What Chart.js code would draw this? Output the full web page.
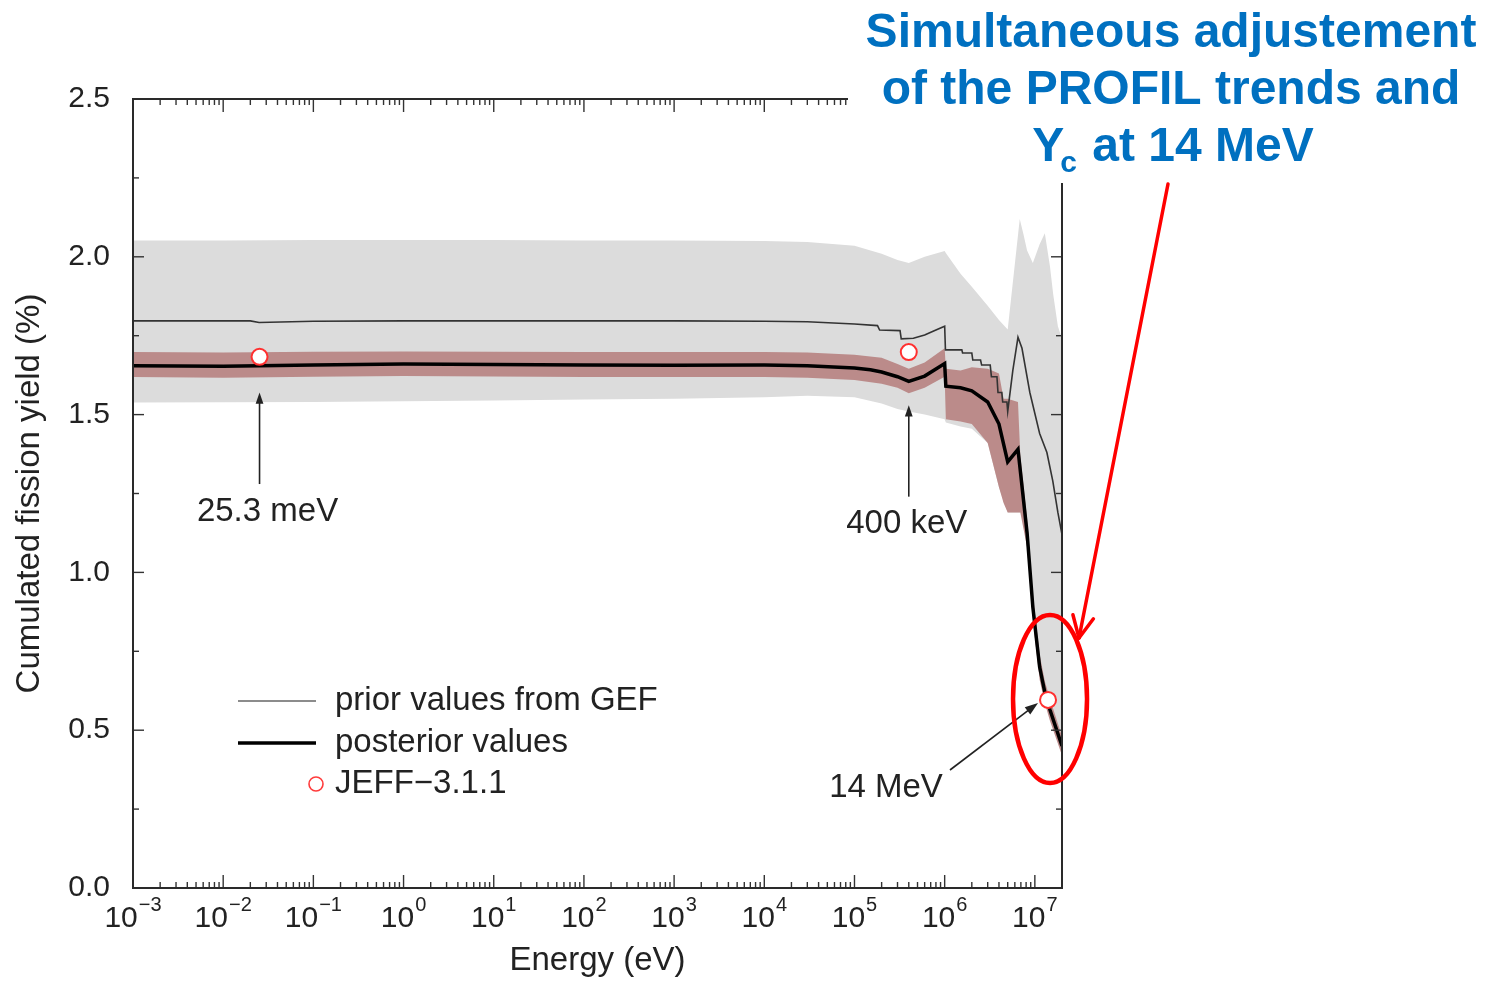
<!DOCTYPE html>
<html>
<head>
<meta charset="utf-8">
<script src="https://cdn.jsdelivr.net/npm/chart.js@4.4.1/dist/chart.umd.min.js"></script>
<style>
  html, body { margin: 0; padding: 0; background: #fff; }
  #wrap { width: 1493px; height: 983px; }
</style>
</head>
<body>
<div id="wrap"><canvas id="yieldChart" width="1493" height="983"></canvas></div>
<script>
// prior values from GEF
var priorEnergy = [1e-3, 0.02, 0.025, 0.1, 1, 10, 100, 1e3, 1e4, 3e4, 1e5, 1.8e5, 1.9e5, 3.2e5, 3.3e5, 4.5e5, 6e5, 8e5, 1e6,
  1.02e6, 1.55e6, 1.58e6, 2.0e6, 2.05e6, 2.5e6, 2.57e6, 3.2e6, 3.3e6, 3.8e6, 3.9e6, 4.3e6, 4.4e6, 4.9e6, 5e6,
  5.7e6, 6.5e6, 7.2e6, 8.8e6, 1.13e7, 1.36e7, 1.58e7, 1.8e7, 2e7];
var priorYield = [1.797, 1.797, 1.792, 1.796, 1.797, 1.797, 1.797, 1.797, 1.796, 1.794, 1.787, 1.782, 1.768, 1.766, 1.74, 1.742, 1.752, 1.768, 1.78,
  1.705, 1.705, 1.695, 1.695, 1.673, 1.673, 1.657, 1.657, 1.62, 1.62, 1.57, 1.57, 1.54, 1.54, 1.51,
  1.64, 1.745, 1.71, 1.57, 1.44, 1.38, 1.29, 1.19, 1.12];

// posterior values
var postEnergy = [1e-3, 1e-2, 0.1, 1, 10, 100, 1e3, 1e4, 3e4, 1e5, 1.5e5, 2e5, 3e5, 4e5, 6e5, 1e6, 1.03e6, 1.5e6, 2e6, 3e6, 4e6, 5e6, 6.5e6, 8.2e6, 9.5e6, 1.13e7, 1.29e7, 1.47e7, 2e7];
var postYield = [1.655, 1.653, 1.657, 1.66, 1.659, 1.657, 1.656, 1.657, 1.655, 1.648, 1.642, 1.635, 1.62, 1.605, 1.622, 1.662, 1.59, 1.585, 1.575, 1.54, 1.47, 1.35, 1.39, 1.125, 0.89, 0.70, 0.62, 0.565, 0.45];

// prior uncertainty band (grey)
var priorBandEnergy = [1e-3, 1e-2, 0.1, 1, 10, 100, 1e3, 1e4, 3e4, 1e5, 2e5, 3e5, 4e5, 6e5, 1e6, 1.03e6, 1.5e6, 2e6, 3e6, 4e6, 5e6, 6.8e6, 7.5e6, 8.2e6, 9.5e6, 1.13e7, 1.29e7, 1.47e7, 1.6e7, 1.8e7, 2e7];
var priorBandHigh = [2.052, 2.052, 2.053, 2.053, 2.053, 2.052, 2.052, 2.05, 2.047, 2.035, 2.01, 1.99, 1.98, 2.0, 2.018, 2.012, 1.946, 1.905, 1.845, 1.80, 1.77, 2.12, 2.07, 2.02, 1.98, 2.04, 2.075, 1.97, 1.88, 1.78, 1.74];
var priorBandLow = [1.538, 1.539, 1.54, 1.542, 1.545, 1.548, 1.55, 1.555, 1.56, 1.555, 1.535, 1.518, 1.51, 1.50, 1.485, 1.475, 1.462, 1.455, 1.41, 1.27, 1.19, 1.19, 1.19, 1.10, 0.87, 0.68, 0.60, 0.54, 0.51, 0.48, 0.45];

// posterior uncertainty band (brown)
var postBandEnergy = [1e-3, 1e-2, 0.1, 1, 10, 100, 1e3, 1e4, 3e4, 1e5, 2e5, 3e5, 4e5, 6e5, 1e6, 1.03e6, 1.5e6, 2e6, 3e6, 4e6, 4.5e6, 5e6, 6.5e6, 6.9e6, 8.2e6, 9.5e6, 1.13e7, 1.29e7, 1.47e7, 2e7];
var postBandHigh = [1.698, 1.697, 1.699, 1.70, 1.699, 1.698, 1.698, 1.698, 1.697, 1.69, 1.68, 1.66, 1.645, 1.665, 1.71, 1.645, 1.64, 1.65, 1.645, 1.63, 1.55, 1.55, 1.54, 1.37, 1.17, 0.93, 0.74, 0.655, 0.60, 0.48];
var postBandLow = [1.619, 1.617, 1.62, 1.622, 1.621, 1.619, 1.619, 1.619, 1.617, 1.61, 1.598, 1.585, 1.568, 1.585, 1.62, 1.485, 1.478, 1.47, 1.41, 1.27, 1.22, 1.19, 1.19, 1.19, 1.08, 0.85, 0.66, 0.585, 0.53, 0.42];

// JEFF-3.1.1 evaluations at thermal, 400 keV and 14 MeV
var jeffEnergy = [0.0253, 4e5, 1.4e7];
var jeffYield = [1.683, 1.698, 0.596];

var decades = [-3, -2, -1, 0, 1, 2, 3, 4, 5, 6, 7];

var FONT = '"Liberation Sans", Arial, Helvetica, sans-serif';
var INK = '#222';
var GREY_BAND = '#dcdcdc';
var BROWN_BAND = 'rgb(187,139,138)';

function pts(xs, ys) {
  return xs.map(function (x, i) { return { x: x, y: ys[i] }; });
}

function line(ctx, x1, y1, x2, y2) {
  ctx.beginPath();
  ctx.moveTo(x1, y1);
  ctx.lineTo(x2, y2);
  ctx.stroke();
}

function solidArrow(ctx, x1, y1, x2, y2, head) {
  var ang = Math.atan2(y2 - y1, x2 - x1);
  line(ctx, x1, y1, x2 - Math.cos(ang) * head * 0.7, y2 - Math.sin(ang) * head * 0.7);
  ctx.beginPath();
  ctx.moveTo(x2, y2);
  ctx.lineTo(x2 - head * Math.cos(ang - 0.33), y2 - head * Math.sin(ang - 0.33));
  ctx.lineTo(x2 - head * Math.cos(ang + 0.33), y2 - head * Math.sin(ang + 0.33));
  ctx.closePath();
  ctx.fill();
}

var frameAndNotes = {
  id: 'frameAndNotes',
  afterDraw: function (chart) {
    var ctx = chart.ctx;
    var a = chart.chartArea;
    var xs = chart.scales.x;
    var ys = chart.scales.y;
    ctx.save();

    // inward ticks on all four sides
    ctx.strokeStyle = '#333';
    ctx.lineWidth = 1.4;
    decades.forEach(function (k) {
      for (var m = 1; m <= 9; m++) {
        var v = m * Math.pow(10, k);
        if (v > xs.max) break;
        var px = xs.getPixelForValue(v);
        var len = m === 1 ? 13 : 6;
        line(ctx, px, a.bottom, px, a.bottom - len);
        line(ctx, px, a.top, px, a.top + len);
      }
    });
    for (var t = 0; t <= 2.5001; t += 0.25) {
      var py = ys.getPixelForValue(t);
      var l = Math.abs(t * 2 - Math.round(t * 2)) < 1e-6 ? 11 : 6;
      line(ctx, a.left, py, a.left + l, py);
      line(ctx, a.right, py, a.right - l, py);
    }

    // frame
    ctx.strokeStyle = '#2a2a2a';
    ctx.lineWidth = 2;
    ctx.strokeRect(a.left, a.top, a.right - a.left, a.bottom - a.top);

    // decade labels 10^n
    ctx.fillStyle = INK;
    ctx.textBaseline = 'alphabetic';
    ctx.textAlign = 'left';
    decades.forEach(function (k) {
      var px = xs.getPixelForValue(Math.pow(10, k));
      var exp = String(k).replace('-', '\u2212');
      ctx.font = '30px ' + FONT;
      var wBase = ctx.measureText('10').width;
      ctx.font = '20px ' + FONT;
      var wExp = ctx.measureText(exp).width;
      var x0 = px - (wBase + wExp + 1) / 2;
      ctx.font = '30px ' + FONT;
      ctx.fillText('10', x0, 927);
      ctx.font = '20px ' + FONT;
      ctx.fillText(exp, x0 + wBase + 1, 911);
    });

    // legend
    ctx.strokeStyle = '#666';
    ctx.lineWidth = 1.6;
    line(ctx, 238, 701, 316, 701);
    ctx.strokeStyle = '#000';
    ctx.lineWidth = 3.5;
    line(ctx, 238, 743, 316, 743);
    ctx.beginPath();
    ctx.arc(316, 784, 7, 0, Math.PI * 2);
    ctx.fillStyle = '#fff';
    ctx.fill();
    ctx.strokeStyle = '#ff3b3b';
    ctx.lineWidth = 1.6;
    ctx.stroke();
    ctx.fillStyle = INK;
    ctx.font = '33px ' + FONT;
    ctx.textBaseline = 'middle';
    ctx.fillText('prior values from GEF', 335, 701);
    ctx.fillText('posterior values', 335, 743);
    ctx.fillText('JEFF\u22123.1.1', 335, 784);

    // energy markers with arrows
    ctx.strokeStyle = '#222';
    ctx.fillStyle = '#222';
    ctx.lineWidth = 1.6;
    var xTh = xs.getPixelForValue(jeffEnergy[0]);
    solidArrow(ctx, xTh, ys.getPixelForValue(1.28), xTh, ys.getPixelForValue(1.57), 12);
    var xKev = xs.getPixelForValue(jeffEnergy[1]);
    solidArrow(ctx, xKev, ys.getPixelForValue(1.24), xKev, ys.getPixelForValue(1.53), 12);
    solidArrow(ctx, 950, 770, xs.getPixelForValue(jeffEnergy[2]) - 10, ys.getPixelForValue(jeffYield[2]) + 3, 14);
    ctx.textAlign = 'center';
    ctx.fillStyle = INK;
    ctx.font = '33px ' + FONT;
    ctx.fillText('25.3 meV', xTh + 8, 512);
    ctx.fillText('400 keV', xKev - 2, 524);
    ctx.fillText('14 MeV', 886, 788);

    // white text box with the blue note
    ctx.fillStyle = '#fff';
    ctx.fillRect(848, 0, 1493 - 848, 183);
    ctx.fillStyle = '#0070c0';
    ctx.font = 'bold 48px ' + FONT;
    ctx.textBaseline = 'alphabetic';
    ctx.textAlign = 'center';
    ctx.fillText('Simultaneous adjustement', 1171, 47);
    ctx.fillText('of the PROFIL trends and', 1171, 104);
    ctx.textAlign = 'left';
    var wY = ctx.measureText('Y').width;
    var rest = ' at 14 MeV';
    var wRest = ctx.measureText(rest).width;
    ctx.font = 'bold 30px ' + FONT;
    var wC = ctx.measureText('c').width;
    var x3 = 1174 - (wY + wC + wRest) / 2;
    ctx.font = 'bold 48px ' + FONT;
    ctx.fillText('Y', x3, 161);
    ctx.font = 'bold 30px ' + FONT;
    ctx.fillText('c', x3 + wY - 4, 172);
    ctx.font = 'bold 48px ' + FONT;
    ctx.fillText(rest, x3 + wY + wC - 2, 161);

    // red ellipse around the 14 MeV point and pointer from the note
    var cx = xs.getPixelForValue(jeffEnergy[2]) + 2;
    var cy = ys.getPixelForValue(jeffYield[2]) - 1;
    ctx.strokeStyle = '#ff0000';
    ctx.lineWidth = 4.5;
    ctx.beginPath();
    ctx.ellipse(cx, cy, 37, 84, 0, 0, Math.PI * 2);
    ctx.stroke();
    ctx.lineWidth = 3.5;
    ctx.lineCap = 'round';
    var tx = 1168, ty = 184, hx = 1079, hy = 638;
    line(ctx, tx, ty, hx, hy);
    var ang = Math.atan2(hy - ty, hx - tx);
    line(ctx, hx, hy, hx - 24 * Math.cos(ang - 0.45), hy - 24 * Math.sin(ang - 0.45));
    line(ctx, hx, hy, hx - 24 * Math.cos(ang + 0.45), hy - 24 * Math.sin(ang + 0.45));

    ctx.restore();
  }
};

Chart.defaults.font.family = FONT;
Chart.defaults.color = INK;

new Chart(document.getElementById('yieldChart').getContext('2d'), {
  type: 'line',
  data: {
    datasets: [
      {
        label: 'JEFF-3.1.1',
        data: pts(jeffEnergy, jeffYield),
        showLine: false,
        pointRadius: 8,
        pointBackgroundColor: '#fff',
        pointBorderColor: '#ff3030',
        pointBorderWidth: 2,
        order: 0
      },
      {
        label: 'posterior values',
        data: pts(postEnergy, postYield),
        borderColor: '#000',
        borderWidth: 3.5,
        pointRadius: 0,
        fill: false,
        order: 1
      },
      {
        label: 'prior values from GEF',
        data: pts(priorEnergy, priorYield),
        borderColor: '#333',
        borderWidth: 1.6,
        pointRadius: 0,
        fill: false,
        order: 2
      },
      {
        label: 'posterior band high',
        data: pts(postBandEnergy, postBandHigh),
        borderWidth: 0,
        borderColor: 'transparent',
        backgroundColor: BROWN_BAND,
        pointRadius: 0,
        fill: 4,
        order: 3
      },
      {
        label: 'posterior band low',
        data: pts(postBandEnergy, postBandLow),
        borderWidth: 0,
        borderColor: 'transparent',
        pointRadius: 0,
        fill: false,
        order: 4
      },
      {
        label: 'prior band high',
        data: pts(priorBandEnergy, priorBandHigh),
        borderWidth: 0,
        borderColor: 'transparent',
        backgroundColor: GREY_BAND,
        pointRadius: 0,
        fill: 6,
        order: 5
      },
      {
        label: 'prior band low',
        data: pts(priorBandEnergy, priorBandLow),
        borderWidth: 0,
        borderColor: 'transparent',
        pointRadius: 0,
        fill: false,
        order: 6
      }
    ]
  },
  options: {
    responsive: false,
    animation: false,
    layout: { padding: { left: 0, top: 99, right: 431, bottom: 0 } },
    plugins: {
      legend: { display: false },
      tooltip: { enabled: false }
    },
    elements: { line: { tension: 0 } },
    scales: {
      x: {
        type: 'logarithmic',
        min: 1e-3,
        max: 2e7,
        grid: { display: false, drawTicks: false },
        border: { display: false },
        ticks: { display: false },
        title: {
          display: true,
          text: 'Energy (eV)',
          font: { size: 33 },
          color: INK,
          padding: { top: 0, bottom: 2 }
        },
        afterFit: function (scale) { scale.height = 95; }
      },
      y: {
        min: 0,
        max: 2.5,
        grid: { display: false, drawTicks: false },
        border: { display: false },
        ticks: {
          stepSize: 0.5,
          padding: 23,
          font: { size: 30 },
          color: INK,
          callback: function (v) { return Number(v).toFixed(1); }
        },
        title: {
          display: true,
          text: 'Cumulated fission yield (%)',
          font: { size: 33 },
          color: INK,
          padding: { top: 10, bottom: 0 }
        },
        afterFit: function (scale) { scale.width = 133; }
      }
    }
  },
  plugins: [frameAndNotes]
});
</script>
</body>
</html>
